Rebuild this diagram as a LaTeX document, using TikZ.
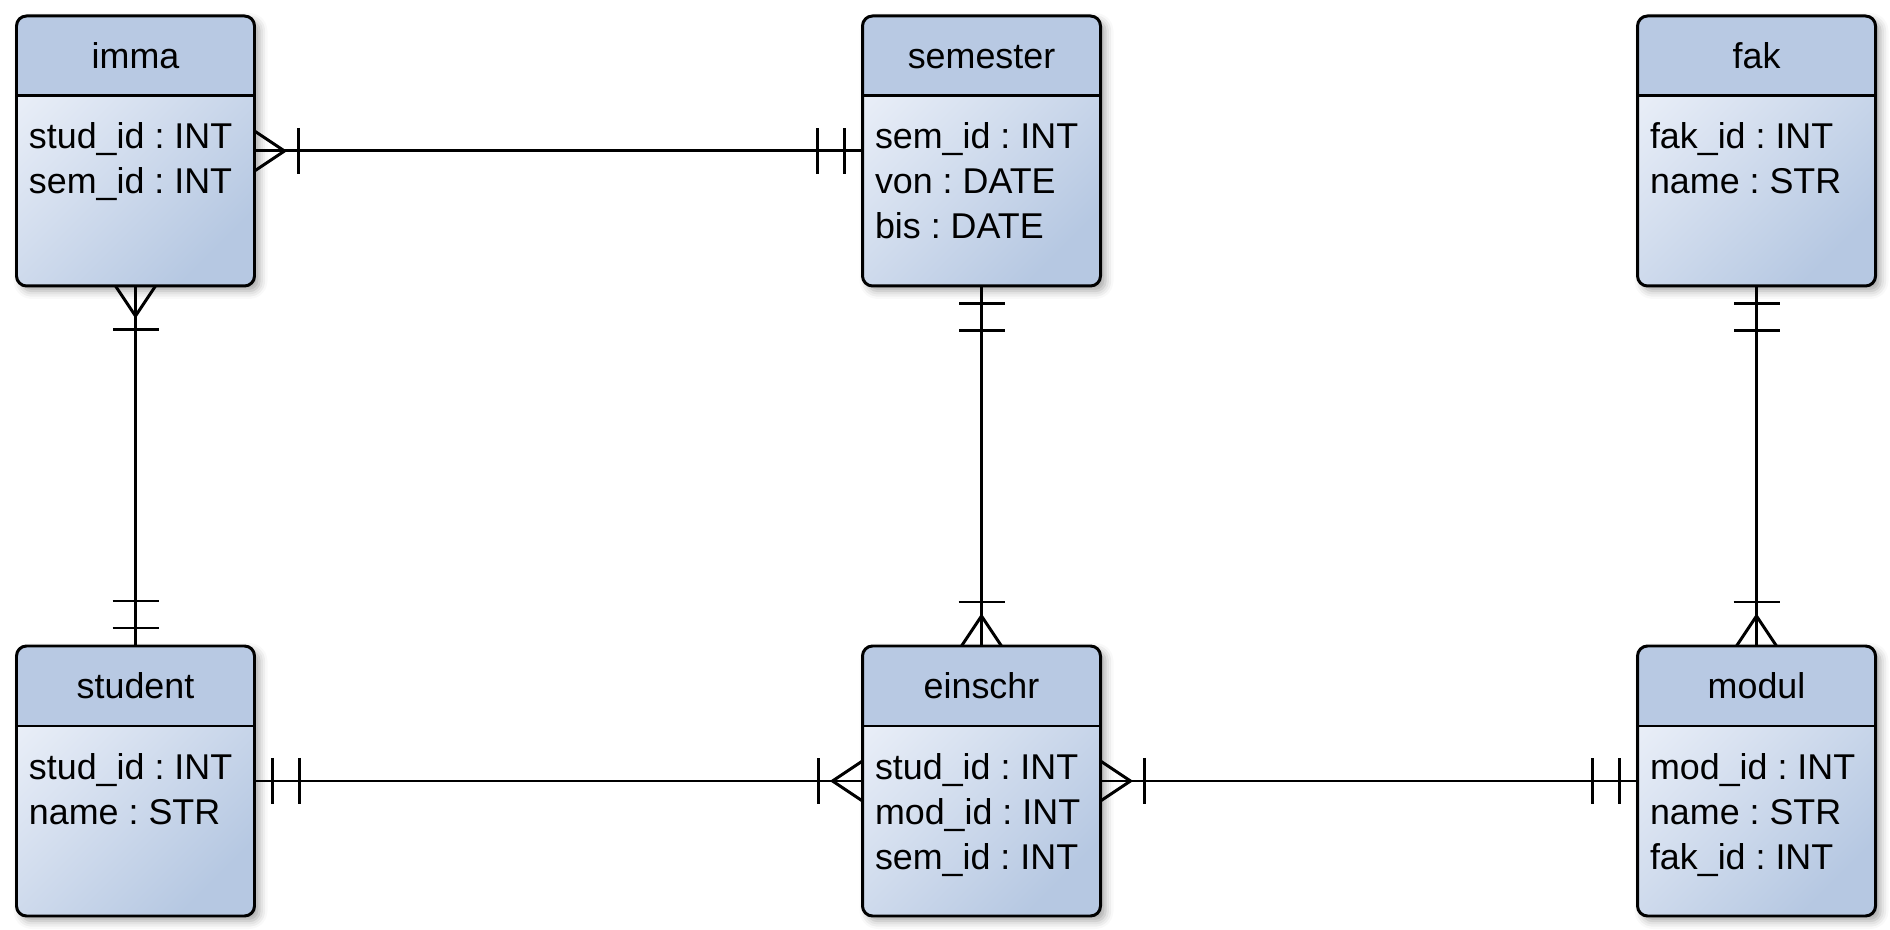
\documentclass[tikz,border=0pt]{standalone}
\usepackage{fontspec}
\setmainfont{Liberation Sans}
\usepackage{tikz}
\usetikzlibrary{shadows.blur}
\usepackage{xcolor}
\definecolor{headblue}{HTML}{B8C9E3}
\definecolor{bodylight}{HTML}{EAEFF8}
\definecolor{bodydark}{HTML}{B6C8E2}
\frenchspacing

\begin{document}
\begin{tikzpicture}[
  x=0.1mm, y=-0.1mm, line width=0.85pt,
  entity/.style={minimum width=23.8mm, minimum height=27mm, inner sep=0pt,
    outer sep=0pt, rounded corners=1mm, top color=bodylight,
    bottom color=bodydark, shading angle=45,
    blur shadow={shadow xshift=0.5mm, shadow yshift=-0.5mm,
      shadow blur radius=0.8mm, shadow opacity=35}},
  ttl/.style={font=\fontsize{10.2}{12}\selectfont, inner sep=0pt, anchor=base},
  fld/.style={font=\fontsize{10.2}{12}\selectfont, inner sep=0pt,
    anchor=base west},
  manyone/.pic={\draw (0,-20) -- (30,0) -- (0,20); \draw (44,-23) -- (44,23);},
  oneone/.pic={\draw (18,-23) -- (18,23); \draw (45,-23) -- (45,23);}
]
  \useasboundingbox (0,0) rectangle (1890,930);
  % Entities
  \foreach \n/\x/\y/\f in {
    imma/135.5/151/{stud\_id : INT,sem\_id : INT},
    semester/981.5/151/{sem\_id : INT,von : DATE,bis : DATE},
    fak/1756.5/151/{fak\_id : INT,name : STR},
    student/135.5/781/{stud\_id : INT,name : STR},
    einschr/981.5/781/{stud\_id : INT,mod\_id : INT,sem\_id : INT},
    modul/1756.5/781/{mod\_id : INT,name : STR,fak\_id : INT}} {
    \node[entity] (\n) at (\x,\y) {};
    \begin{scope}
      \clip[rounded corners=1mm] (\n.north west) rectangle (\n.south east);
      \fill[headblue] (\n.north west) rectangle ([yshift=-8mm]\n.north east);
    \end{scope}
    \draw[rounded corners=1mm] (\n.north west) rectangle (\n.south east);
    \draw ([yshift=-8mm]\n.north west) -- ([yshift=-8mm]\n.north east);
    \node[ttl] (\n-t) at ([shift={(0,53)}]\n.north) {\n};
    \foreach \t [count=\i] in \f
      \node[fld] (\n-\i) at ([shift={(11,88+45*\i)}]\n.north west) {\t};
  }
  % Relations
  \draw (imma.east) -- (semester.west);
  \draw (imma.south) -- (student.north);
  \draw (semester.south) -- (einschr.north);
  \draw (fak.south) -- (modul.north);
  \draw (student.east) -- (einschr.west);
  \draw (einschr.east) -- (modul.west);
  % Cardinalities
  \pic[rotate=0] at (imma.east) {manyone};
  \pic[rotate=180] at (semester.west) {oneone};
  \pic[rotate=-90] at (imma.south) {manyone};
  \pic[rotate=90] at (student.north) {oneone};
  \pic[rotate=-90] at (semester.south) {oneone};
  \pic[rotate=90] at (einschr.north) {manyone};
  \pic[rotate=-90] at (fak.south) {oneone};
  \pic[rotate=90] at (modul.north) {manyone};
  \pic[rotate=0] at (student.east) {oneone};
  \pic[rotate=180] at (einschr.west) {manyone};
  \pic[rotate=0] at (einschr.east) {manyone};
  \pic[rotate=180] at (modul.west) {oneone};
\end{tikzpicture}
\end{document}
